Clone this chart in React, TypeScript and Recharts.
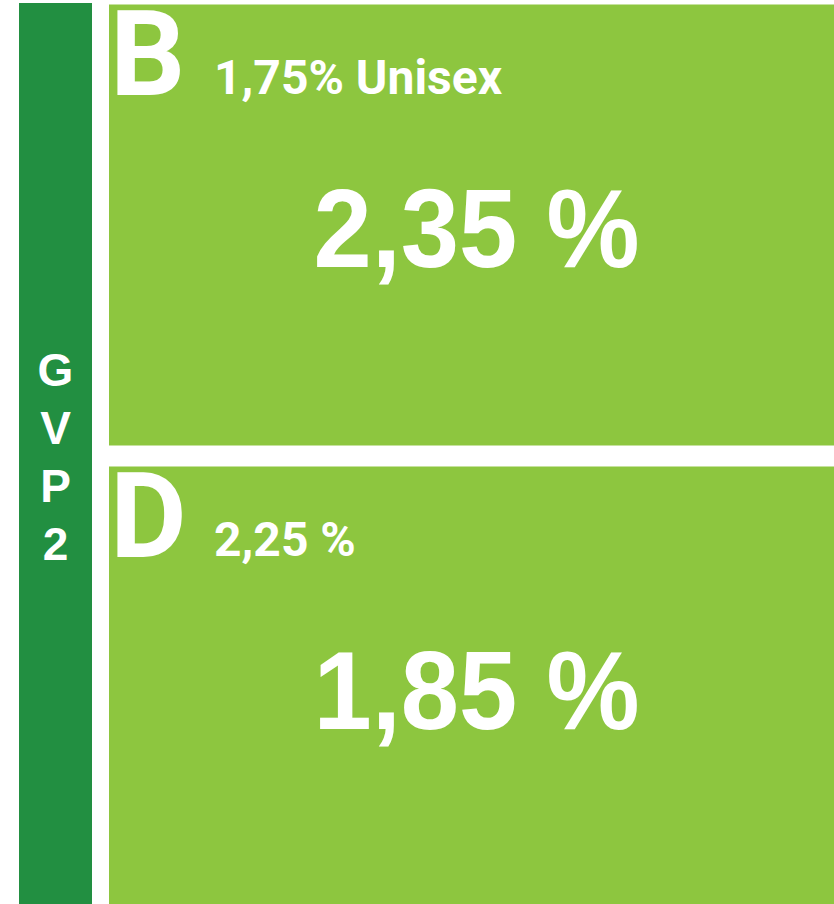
import { BarChart, Bar, XAxis, YAxis } from 'recharts';

// panel codes, base rates (small header) and the big rates
const codes = ['B', 'D'];
const baseRates = ['1,75% Unisex', '2,25 %'];
const rates = ['2,35 %', '1,85 %'];
// every panel spans the full row
const spans = [1, 1];
// vertical group label on the left
const groupLetters = ['G', 'V', 'P', '2'];

const DARK = '#228F41';
const LIGHT = '#8DC63F';

const data = codes.map((code, i) => ({
  code,
  base: baseRates[i],
  rate: rates[i],
  span: spans[i],
}));

const PanelShape = (props: any) => {
  const { x, y, width, height, payload } = props;
  return (
    <g>
      <rect x={x} y={y} width={width} height={height} fill={LIGHT} />
      <text
        x={x + 1}
        y={y + 90}
        fill="#fff"
        fontFamily="Roboto, sans-serif"
        fontWeight={700}
        fontSize={118}
      >
        {payload.code}
      </text>
      <text
        x={x + 105}
        y={y + 89}
        fill="#fff"
        fontFamily="Roboto, sans-serif"
        fontWeight={700}
        fontSize={48}
      >
        {payload.base}
      </text>
      <text
        x={x + width / 2 + 5}
        y={y + 262}
        fill="#fff"
        textAnchor="middle"
        fontFamily="'Liberation Sans', Arial, sans-serif"
        fontWeight={700}
        fontSize={112}
        textLength={326}
        lengthAdjust="spacingAndGlyphs"
      >
        {payload.rate}
      </text>
    </g>
  );
};

const GroupBar = () => (
  <g>
    <rect x={19} y={3} width={73} height={901} fill={DARK} />
    {groupLetters.map((l, i) => (
      <text
        key={l + i}
        x={55.5}
        y={386 + i * 58}
        fill="#fff"
        textAnchor="middle"
        fontFamily="'Liberation Sans', Arial, sans-serif"
        fontWeight={700}
        fontSize={46}
      >
        {l}
      </text>
    ))}
  </g>
);

export default function App() {
  return (
    <div style={{ position: 'absolute', left: 0, top: 0 }}>
      <BarChart
        width={834}
        height={904}
        data={data}
        layout="vertical"
        margin={{ top: -6.5, right: 0, bottom: -13.5, left: 109 }}
        barSize={441}
      >
        <XAxis type="number" domain={[0, 1]} hide />
        <YAxis type="category" dataKey="code" hide />
        <GroupBar />
        <Bar dataKey="span" shape={PanelShape} isAnimationActive={false} />
      </BarChart>
    </div>
  );
}
